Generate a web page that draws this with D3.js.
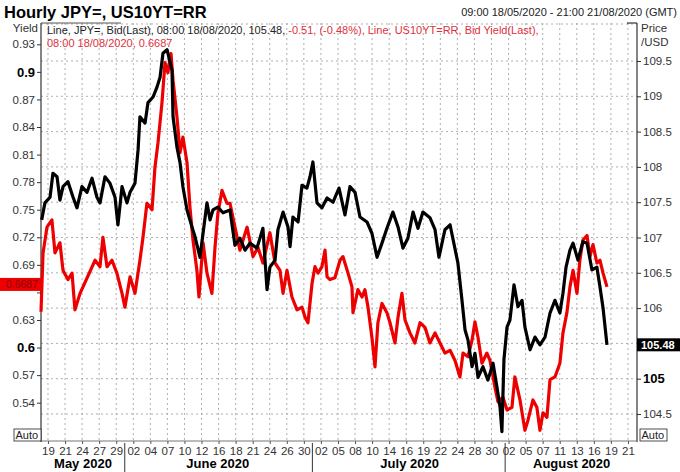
<!DOCTYPE html>
<html>
<head>
<meta charset="utf-8">
<script src="https://cdn.jsdelivr.net/npm/d3@7"></script>
<style>
  body { margin: 0; background: #fff; }
  svg { font-family: "Liberation Sans", Arial, sans-serif; }
</style>
</head>
<body>
<div id="chart"></div>
<script>
// time axis is in "tick units": 0 = first label (19 May), 1 = next label, ...
let tickLabels = ["19","21","24","27","29","02","04","07","10","12","16","18","21","24","26","30",
                  "02","05","08","10","14","16","19","22","24","28","30","02","05","07","11","13","16","19","21"];
let monthNames = ["May 2020", "June 2020", "July 2020", "August 2020"];
let monthCentres = [2.05, 9.95, 21.2, 30.7];
let monthBreaks = [4.5, 15.5, 26.8];

let yieldTicks = [0.54, 0.57, 0.6, 0.63, 0.66, 0.69, 0.72, 0.75, 0.78, 0.81, 0.84, 0.87, 0.9, 0.93];
let priceTicks = [104.5, 105, 106, 106.5, 107, 107.5, 108, 108.5, 109, 109.5];
let priceGrid = [104.5, 105, 105.5, 106, 106.5, 107, 107.5, 108, 108.5, 109, 109.5];

// JPY= bid (black, right axis)
let jpyT = [-0.37,-0.18,0.12,0.29,0.53,0.70,0.88,1.17,1.47,1.70,1.99,2.29,2.58,2.87,3.05,3.34,3.63,3.93,4.10,4.34,
  4.63,4.81,5.10,5.28,5.39,5.69,5.86,6.16,6.39,6.57,6.74,6.98,7.27,7.33,7.56,7.74,7.91,8.15,8.44,8.62,
  8.91,9.09,9.32,9.50,9.67,9.96,10.26,10.67,10.96,11.25,11.55,11.84,12.25,12.60,12.84,13.01,13.31,13.48,13.78,14.07,
  14.19,14.36,14.66,14.89,15.18,15.36,15.53,15.77,16.06,16.36,16.71,17.06,17.41,17.70,18.00,18.29,18.70,18.99,19.29,19.58,
  19.87,20.22,20.52,20.81,21.10,21.40,21.69,21.98,22.39,22.69,22.92,23.27,23.57,24.03,24.27,24.45,24.62,24.86,25.03,25.21,
  25.50,25.79,26.09,26.32,26.50,26.61,26.73,26.91,27.08,27.32,27.55,27.79,27.96,28.26,28.55,28.84,29.14,29.43,29.72,30.01,
  30.19,30.37,30.60,30.78,31.07,31.36,31.60,31.89,32.18,32.36,32.54,32.77];
let jpyVal = [107.25,107.49,107.57,107.91,107.86,107.53,107.72,107.79,107.57,107.42,107.72,107.64,107.84,107.57,107.49,107.86,107.77,107.57,107.18,107.72,
  107.49,107.64,107.77,108.24,108.71,108.62,108.91,108.99,109.13,109.27,109.61,109.66,109.37,108.71,108.28,108.06,107.72,107.39,107.15,107.01,
  106.72,107.06,107.49,107.25,107.39,107.43,107.35,107.39,106.89,106.99,106.82,106.92,106.85,107.13,106.26,106.58,106.68,107.11,107.36,107.15,
  106.87,107.29,107.22,107.74,107.70,107.86,108.07,107.49,107.42,107.56,107.50,107.70,107.32,107.72,107.64,107.29,107.22,107.06,106.72,106.92,
  107.13,107.36,107.15,106.85,106.99,107.36,107.13,107.36,107.28,107.11,106.72,107.11,107.18,106.64,106.11,105.69,105.55,105.17,105.36,105.02,
  105.17,104.98,105.22,104.88,104.60,104.25,105.27,105.73,105.83,106.33,106.02,106.11,105.73,105.41,105.59,105.48,105.59,105.93,106.11,105.93,
  106.21,106.58,106.82,106.92,106.68,106.94,106.92,106.54,106.58,106.30,106.00,105.48];

// US10YT=RR bid yield (red, left axis)
let ustT = [-0.41,-0.29,-0.06,0.23,0.41,0.70,0.88,1.17,1.41,1.58,1.88,2.76,3.05,3.22,3.46,3.75,4.04,4.34,4.51,4.81,
  5.10,5.39,5.57,5.80,6.10,6.27,6.45,6.68,6.86,7.03,7.21,7.33,7.56,7.74,7.91,8.15,8.32,8.50,8.73,8.85,
  9.09,9.32,9.61,9.79,9.96,10.20,10.49,10.67,10.96,11.25,11.67,12.02,12.31,12.60,13.01,13.31,13.60,13.78,14.01,14.30,
  14.60,14.89,15.07,15.24,15.48,15.65,15.83,16.06,16.24,16.36,16.53,16.82,17.12,17.29,17.59,17.82,17.88,18.17,18.41,18.58,
  18.76,18.99,19.17,19.34,19.58,19.87,20.05,20.34,20.52,20.75,20.93,21.22,21.51,21.81,22.10,22.39,22.69,22.98,23.27,23.57,
  23.86,24.15,24.33,24.62,24.86,25.03,25.21,25.44,25.73,25.91,26.20,26.38,26.67,26.91,27.20,27.37,27.67,27.96,28.14,28.43,
  28.66,28.84,29.02,29.25,29.43,29.72,30.01,30.19,30.42,30.60,30.78,31.01,31.18,31.36,31.60,31.77,31.95,32.18,32.36,32.54,32.77];
let ustVal = [0.639,0.703,0.731,0.739,0.703,0.714,0.684,0.674,0.681,0.641,0.659,0.695,0.688,0.720,0.688,0.695,0.681,0.659,0.644,0.677,
  0.659,0.695,0.720,0.757,0.750,0.796,0.823,0.866,0.910,0.899,0.920,0.891,0.851,0.812,0.829,0.801,0.753,0.717,0.684,0.655,
  0.714,0.681,0.659,0.709,0.746,0.771,0.757,0.757,0.731,0.706,0.731,0.699,0.709,0.692,0.725,0.692,0.684,0.659,0.684,0.655,
  0.641,0.644,0.633,0.627,0.670,0.688,0.681,0.688,0.706,0.677,0.674,0.676,0.695,0.699,0.681,0.666,0.638,0.663,0.655,0.663,
  0.644,0.611,0.579,0.627,0.648,0.638,0.627,0.605,0.633,0.659,0.630,0.616,0.605,0.627,0.622,0.605,0.616,0.605,0.594,0.597,
  0.586,0.568,0.594,0.590,0.608,0.628,0.611,0.583,0.594,0.586,0.557,0.541,0.546,0.532,0.535,0.568,0.543,0.510,0.521,0.543,
  0.535,0.510,0.529,0.524,0.565,0.568,0.583,0.616,0.638,0.666,0.684,0.659,0.695,0.717,0.722,0.699,0.712,0.692,0.695,0.681,0.666];

const width = 680, height = 472;
const plot = {left: 41, right: 637, top: 23, bottom: 441};

let svg = d3.select("#chart").append("svg")
    .attr("width", width)
    .attr("height", height);

// scales
let x = d3.scaleLinear().domain([-0.41, 34.53]).range([plot.left, plot.right]);
let yLeft = d3.scaleLinear().domain([0.54, 0.93]).range([402.7, 44.3]);
let yRight = d3.scaleLinear().domain([104.5, 109.5]).range([414, 61]);

// title + period
svg.append("text")
    .attr("x", 4).attr("y", 18)
    .style("font-size", "16.5px").style("font-weight", "bold")
    .text("Hourly JPY=, US10YT=RR");
svg.append("text")
    .attr("x", 677).attr("y", 16)
    .style("text-anchor", "end").style("font-size", "11px").attr("fill", "#222")
    .text("09:00 18/05/2020 - 21:00 21/08/2020 (GMT)");

// gridlines
let grid = svg.append("g").attr("stroke", "#9a9a9a").attr("stroke-dasharray", "2,3").attr("stroke-width", 0.8);
grid.selectAll(".vg").data(d3.range(tickLabels.length)).enter()
    .append("line").attr("class", "vg")
    .attr("x1", d => x(d)).attr("x2", d => x(d))
    .attr("y1", plot.top).attr("y2", plot.bottom);
grid.selectAll(".hg").data(priceGrid).enter()
    .append("line").attr("class", "hg")
    .attr("x1", plot.left).attr("x2", plot.right)
    .attr("y1", d => yRight(d)).attr("y2", d => yRight(d));
grid.append("line")
    .attr("x1", plot.left).attr("x2", plot.right)
    .attr("y1", plot.top + 1).attr("y2", plot.top + 1);

// frame
svg.append("line").attr("x1", plot.left).attr("x2", plot.left).attr("y1", plot.top).attr("y2", plot.bottom + 1)
    .attr("stroke", "#333").attr("stroke-width", 1.2);
svg.append("line").attr("x1", plot.right).attr("x2", plot.right).attr("y1", plot.top).attr("y2", plot.bottom + 1)
    .attr("stroke", "#333").attr("stroke-width", 1.2);
svg.append("line").attr("x1", plot.left).attr("x2", plot.right).attr("y1", plot.bottom).attr("y2", plot.bottom)
    .attr("stroke", "#777").attr("stroke-width", 1);
svg.append("line").attr("x1", plot.left).attr("x2", plot.left + 80).attr("y1", plot.top).attr("y2", plot.top)
    .attr("stroke", "#555").attr("stroke-width", 1);
svg.append("line").attr("x1", plot.right - 10).attr("x2", plot.right).attr("y1", plot.top).attr("y2", plot.top)
    .attr("stroke", "#333").attr("stroke-width", 1.2);

// series lines
let lineRed = d3.line().x((d, i) => x(ustT[i])).y(d => yLeft(d)).curve(d3.curveLinear);
let lineBlack = d3.line().x((d, i) => x(jpyT[i])).y(d => yRight(d)).curve(d3.curveLinear);

svg.append("path").datum(ustVal)
    .attr("d", lineRed)
    .attr("fill", "none").attr("stroke", "#ee0000").attr("stroke-width", 3.2)
    .attr("stroke-linejoin", "round");
svg.append("path").datum(jpyVal)
    .attr("d", lineBlack)
    .attr("fill", "none").attr("stroke", "#000").attr("stroke-width", 3.2)
    .attr("stroke-linejoin", "round");

// left axis (yield); the 0.66 label sits under the last-value tag
let leftAxis = svg.append("g")
    .attr("transform", `translate(${plot.left},0)`)
    .call(d3.axisLeft(yLeft).tickValues(yieldTicks).tickSize(4).tickPadding(2)
        .tickFormat(d => d === 0.66 ? "" : d3.format("")(+d.toFixed(2))));
leftAxis.select(".domain").remove();
leftAxis.selectAll("text")
    .style("font-size", d => (d === 0.9 || d === 0.6) ? "13px" : "11.5px")
    .style("font-weight", d => (d === 0.9 || d === 0.6) ? "bold" : "normal")
    .attr("fill", d => (d === 0.9 || d === 0.6) ? "#000" : "#333");
leftAxis.selectAll("line").attr("stroke", "#333");
svg.append("text").attr("x", 38).attr("y", 32).style("text-anchor", "end")
    .style("font-size", "11.5px").attr("fill", "#333").text("Yield");

// right axis (price)
let rightAxis = svg.append("g")
    .attr("transform", `translate(${plot.right},0)`)
    .call(d3.axisRight(yRight).tickValues(priceTicks).tickSize(4).tickPadding(2)
        .tickFormat(d => d3.format("")(d)));
rightAxis.select(".domain").remove();
rightAxis.selectAll("text")
    .style("font-size", d => d === 105 ? "13px" : "11.5px")
    .style("font-weight", d => d === 105 ? "bold" : "normal")
    .attr("fill", d => d === 105 ? "#000" : "#333");
rightAxis.selectAll("line").attr("stroke", "#333");
svg.append("text").attr("x", 641).attr("y", 32).style("font-size", "11.5px").attr("fill", "#333").text("Price");
svg.append("text").attr("x", 641).attr("y", 46).style("font-size", "11.5px").attr("fill", "#333").text("/USD");

// last value tags
let lastPrice = jpyVal[jpyVal.length - 1];
svg.append("rect").attr("x", 0).attr("y", yLeft(0.6687) - 6.5).attr("width", plot.left).attr("height", 13)
    .attr("fill", "#ee0000");
svg.append("text").attr("x", 38).attr("y", yLeft(0.6687) + 4).style("text-anchor", "end")
    .style("font-size", "10.5px").attr("fill", "#8b0000").text("0.6687");
svg.append("rect").attr("x", plot.right).attr("y", yRight(lastPrice) - 6.5).attr("width", 43).attr("height", 13)
    .attr("fill", "#000");
svg.append("text").attr("x", plot.right + 4).attr("y", yRight(lastPrice) + 4)
    .style("font-size", "11px").style("font-weight", "bold").attr("fill", "#fff").text(lastPrice.toFixed(2));

// "Auto" boxes
[[14, "Auto"], [640, "Auto"]].forEach(([bx, t]) => {
    svg.append("rect").attr("x", bx).attr("y", 429).attr("width", 27).attr("height", 12)
        .attr("fill", "#fff").attr("stroke", "#222").attr("stroke-width", 0.8);
    svg.append("text").attr("x", bx + 1.5).attr("y", 439).style("font-size", "11px").attr("fill", "#222").text(t);
});

// bottom axis
let bottomAxis = svg.append("g")
    .attr("transform", `translate(0,${plot.bottom})`)
    .call(d3.axisBottom(x).tickValues(d3.range(tickLabels.length)).tickSize(3).tickPadding(3)
        .tickFormat(i => tickLabels[i]));
bottomAxis.select(".domain").remove();
bottomAxis.selectAll("text").style("font-size", "11.5px").attr("fill", "#333");
bottomAxis.selectAll("line").attr("stroke", "#555");

svg.selectAll(".month").data(monthNames).enter()
    .append("text").attr("class", "month")
    .attr("x", (d, i) => x(monthCentres[i])).attr("y", 468)
    .style("text-anchor", "middle").style("font-size", "13px").style("font-weight", "bold")
    .text(d => d);
svg.selectAll(".mbreak").data(monthBreaks).enter()
    .append("line").attr("class", "mbreak")
    .attr("x1", d => x(d)).attr("x2", d => x(d))
    .attr("y1", 443).attr("y2", 472)
    .attr("stroke", "#333").attr("stroke-width", 1);

// legend text
let legend = svg.append("text").attr("x", 47).attr("y", 34).style("font-size", "11px");
legend.append("tspan").attr("fill", "#222").text("Line, JPY=, Bid(Last), 08:00 18/08/2020, 105.48, ");
legend.append("tspan").attr("fill", "#e0303c").text("-0.51, (-0.48%), Line, US10YT=RR, Bid Yield(Last),");
svg.append("text").attr("x", 47).attr("y", 47).style("font-size", "11px").attr("fill", "#e0303c")
    .text("08:00 18/08/2020, 0.6687");
</script>
</body>
</html>
